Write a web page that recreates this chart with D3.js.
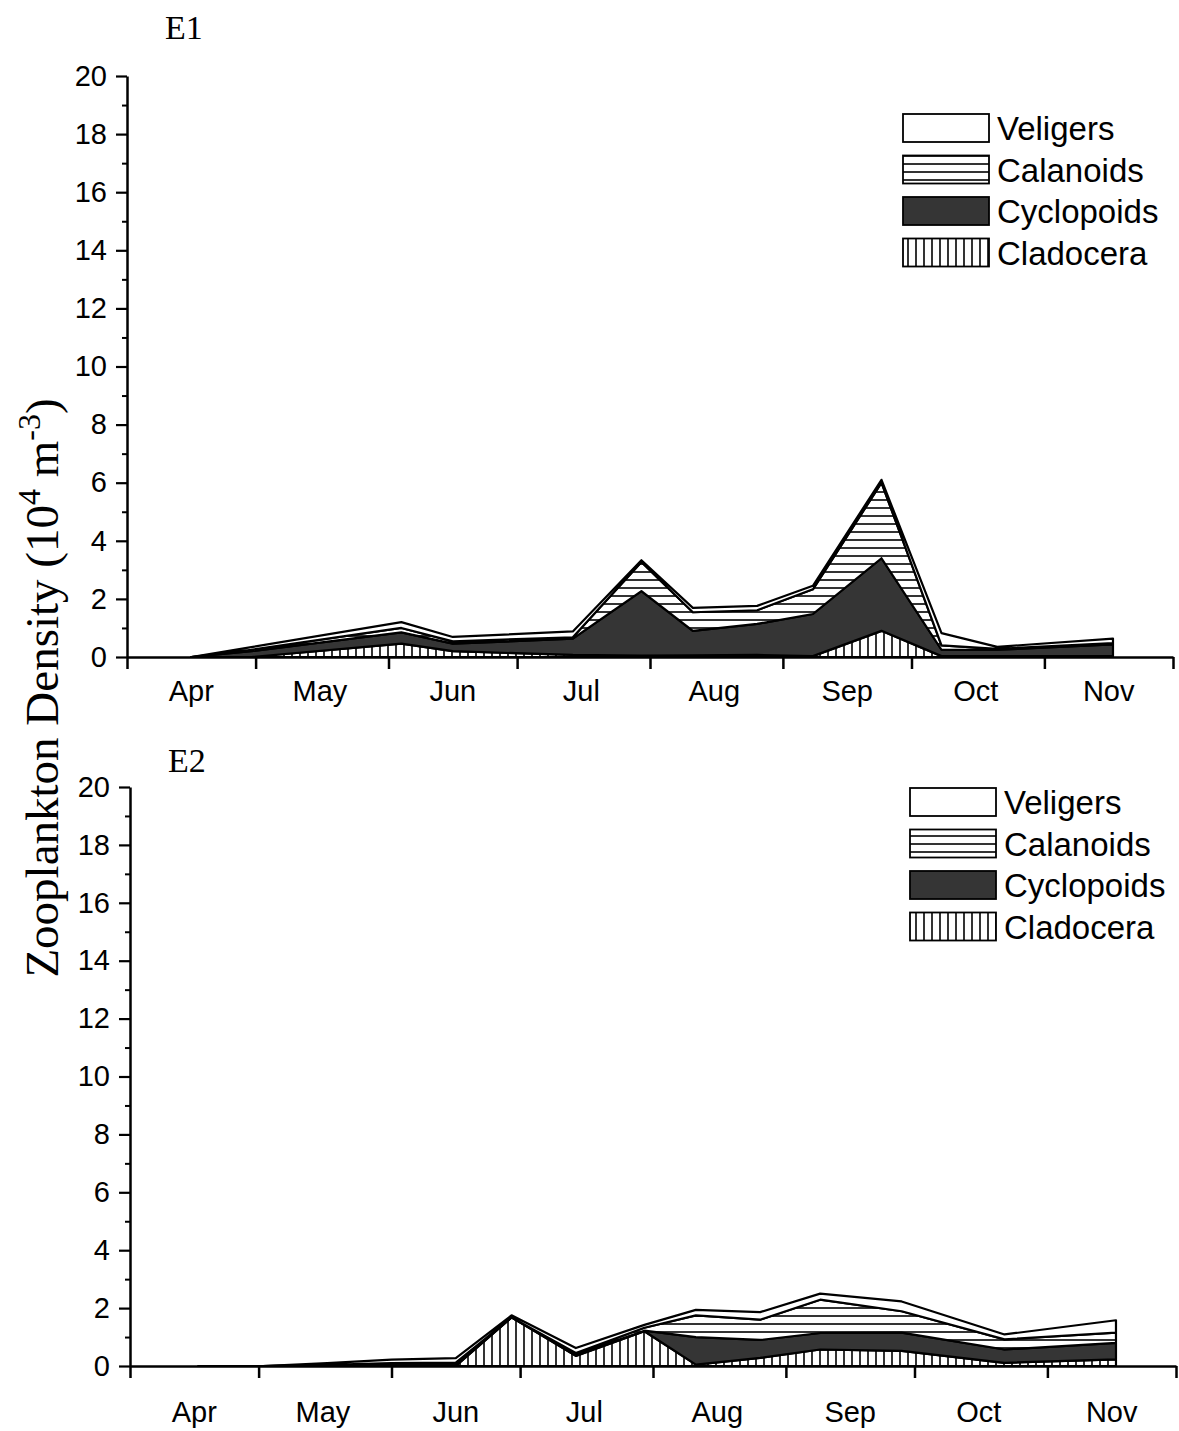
<html>
<head>
<script src="https://d3js.org/d3.v7.min.js"></script>
<style>
body { margin: 0; background: #fff; }
svg { display: block; }
.tick text { font-family: "Liberation Sans", Arial, sans-serif; }
</style>
</head>
<body>
<script>
// width and height of the page
var w = 1179;
var h = 1431;

var parse = d3.timeParse("%Y-%m-%d");

// month boundaries and labels (x axis)
var monthStarts = ["1997-04-01","1997-05-01","1997-06-01","1997-07-01","1997-08-01","1997-09-01","1997-10-01","1997-11-01","1997-12-01"];
var monthMids = ["1997-04-16","1997-05-16","1997-06-16","1997-07-16","1997-08-16","1997-09-16","1997-10-16","1997-11-16"];
var monthNames = ["Apr","May","Jun","Jul","Aug","Sep","Oct","Nov"];
var yMajor = [0,2,4,6,8,10,12,14,16,18,20];
var yMinor = [1,3,5,7,9,11,13,15,17,19];

// stacking order, bottom to top
var groups = ["Cladocera","Cyclopoids","Calanoids","Veligers"];
var legendOrder = ["Veligers","Calanoids","Cyclopoids","Cladocera"];

// station E1 (10^4 m^-3)
var e1Dates = ["1997-04-16","1997-04-30","1997-06-04","1997-06-16","1997-07-14","1997-07-30","1997-08-11","1997-08-26","1997-09-08","1997-09-24","1997-10-08","1997-10-21","1997-11-17"];
var e1Cladocera  = [0, 0,    0.46, 0.20, 0.07, 0.05, 0.06, 0.07, 0.03, 0.90, 0.03, 0.03, 0.03];
var e1Cyclopoids = [0, 0.20, 0.39, 0.26, 0.56, 2.22, 0.84, 1.07, 1.45, 2.50, 0.22, 0.22, 0.40];
var e1Calanoids  = [0, 0.05, 0.15, 0.08, 0.05, 1.00, 0.64, 0.47, 0.85, 2.60, 0.15, 0.03, 0.05];
var e1Veligers   = [0, 0.09, 0.20, 0.15, 0.20, 0.06, 0.15, 0.15, 0.12, 0.10, 0.42, 0.07, 0.15];

// station E2
var e2Dates = ["1997-04-17","1997-05-02","1997-05-17","1997-06-01","1997-06-16","1997-06-29","1997-07-14","1997-07-30","1997-08-11","1997-08-26","1997-09-09","1997-09-28","1997-10-22","1997-11-17"];
var e2Cladocera  = [0, 0, 0,    0,    0,    1.68, 0.35, 1.20, 0.05, 0.28, 0.57, 0.52, 0.11, 0.23];
var e2Cyclopoids = [0, 0, 0.04, 0.08, 0.08, 0,    0.05, 0.02, 0.95, 0.62, 0.57, 0.63, 0.46, 0.57];
var e2Calanoids  = [0, 0, 0,    0.02, 0.04, 0,    0.05, 0.10, 0.75, 0.70, 1.15, 0.74, 0.35, 0.35];
var e2Veligers   = [0, 0, 0.06, 0.12, 0.15, 0.07, 0.17, 0.10, 0.19, 0.26, 0.21, 0.34, 0.17, 0.43];

var svg = d3.select("body").append("svg")
	.attr("width", w)
	.attr("height", h);

// fill patterns
var defs = svg.append("defs");
var pH = defs.append("pattern").attr("id","hatchH")
	.attr("patternUnits","userSpaceOnUse").attr("width",8).attr("height",8);
pH.append("rect").attr("width",8).attr("height",8).attr("fill","#fff");
pH.append("line").attr("x1",0).attr("x2",8).attr("y1",4).attr("y2",4)
	.attr("stroke","#000").attr("stroke-width",1.6);
var pV = defs.append("pattern").attr("id","hatchV")
	.attr("patternUnits","userSpaceOnUse").attr("width",8).attr("height",8);
pV.append("rect").attr("width",8).attr("height",8).attr("fill","#fff");
pV.append("line").attr("x1",4).attr("x2",4).attr("y1",0).attr("y2",8)
	.attr("stroke","#000").attr("stroke-width",1.6);

var fills = {
	"Veligers": "#fff",
	"Calanoids": "url(#hatchH)",
	"Cyclopoids": "#353535",
	"Cladocera": "url(#hatchV)"
};

function buildRows(dates, clad, cyc, cal, vel) {
	var rows = [];
	for (var i=0; i<dates.length; i++) {
		rows.push({date: parse(dates[i]), Cladocera: clad[i], Cyclopoids: cyc[i], Calanoids: cal[i], Veligers: vel[i]});
	}
	return rows;
}

function drawPanel(p) {
	var x = d3.scaleTime()
		.domain([parse(monthStarts[0]), parse(monthStarts[monthStarts.length-1])])
		.range([p.left, p.right]);
	var y = d3.scaleLinear().domain([0,20]).range([p.bottom, p.top]);

	var series = d3.stack().keys(groups)(p.rows);
	var area = d3.area()
		.x(function(d) { return x(d.data.date); })
		.y0(function(d) { return y(d[0]); })
		.y1(function(d) { return y(d[1]); });

	svg.append("g").selectAll("path")
		.data(series)
		.enter().append("path")
		.attr("d", area)
		.attr("fill", function(d) { return fills[d.key]; })
		.attr("stroke", "#000")
		.attr("stroke-width", 2.2)
		.attr("stroke-linejoin", "round");

	// y axis
	var yAx = svg.append("g")
		.attr("transform","translate(" + p.left + ",0)")
		.call(d3.axisLeft(y).tickValues(yMajor).tickSize(11).tickSizeOuter(0).tickPadding(9));
	yAx.select(".domain").attr("stroke-width",2.5);
	yAx.selectAll(".tick line").attr("stroke-width",2.2);
	yAx.selectAll(".tick text").attr("font-size",29).attr("fill","#000");
	var yMin = svg.append("g")
		.attr("transform","translate(" + p.left + ",0)")
		.call(d3.axisLeft(y).tickValues(yMinor).tickSize(5).tickFormat(""));
	yMin.select(".domain").remove();
	yMin.selectAll(".tick line").attr("stroke-width",2);

	// x axis
	var xAx = svg.append("g")
		.attr("transform","translate(0," + p.bottom + ")")
		.call(d3.axisBottom(x).tickValues(monthStarts.map(parse)).tickSize(12).tickSizeOuter(0).tickFormat(""));
	xAx.select(".domain").attr("stroke-width",2.5);
	xAx.selectAll(".tick line").attr("stroke-width",2.5);

	svg.append("g").selectAll("text")
		.data(monthNames)
		.enter().append("text")
		.attr("x", function(d,i) { return x(parse(monthMids[i])); })
		.attr("y", p.bottom + p.labOff)
		.attr("text-anchor","middle")
		.attr("font-family","Liberation Sans, Arial, sans-serif")
		.attr("font-size",29)
		.text(function(d) { return d; });

	// panel title
	svg.append("text")
		.attr("x", p.left + 38)
		.attr("y", p.titleY)
		.attr("font-family","Liberation Serif, Times New Roman, serif")
		.attr("font-size",34)
		.text(p.title);

	// legend
	var lg = svg.append("g");
	legendOrder.forEach(function(k, i) {
		var ry = p.legY + i*41.5;
		lg.append("rect")
			.attr("x", p.legX).attr("y", ry)
			.attr("width", 86).attr("height", 28)
			.attr("fill", fills[k])
			.attr("stroke","#000").attr("stroke-width",1.8);
		lg.append("text")
			.attr("x", p.legX + 94).attr("y", ry + 26)
			.attr("font-family","Liberation Sans, Arial, sans-serif")
			.attr("font-size",33)
			.text(k);
	});
}

drawPanel({title:"E1", titleY:39, top:76, bottom:657, left:127, right:1173, labOff:44, legX:903, legY:114,
	rows: buildRows(e1Dates, e1Cladocera, e1Cyclopoids, e1Calanoids, e1Veligers)});
drawPanel({title:"E2", titleY:772, top:787, bottom:1366, left:130, right:1176, labOff:56, legX:910, legY:788,
	rows: buildRows(e2Dates, e2Cladocera, e2Cyclopoids, e2Calanoids, e2Veligers)});

// shared y label
var yl = svg.append("text")
	.attr("transform","translate(58,688) rotate(-90)")
	.attr("text-anchor","middle")
	.attr("font-family","Liberation Serif, Times New Roman, serif")
	.attr("font-size",47);
yl.append("tspan").text("Zooplankton Density (10");
yl.append("tspan").attr("baseline-shift","super").attr("font-size",32).text("4");
yl.append("tspan").text(" m");
yl.append("tspan").attr("baseline-shift","super").attr("font-size",32).text("-3");
yl.append("tspan").text(")");
</script>
</body>
</html>
